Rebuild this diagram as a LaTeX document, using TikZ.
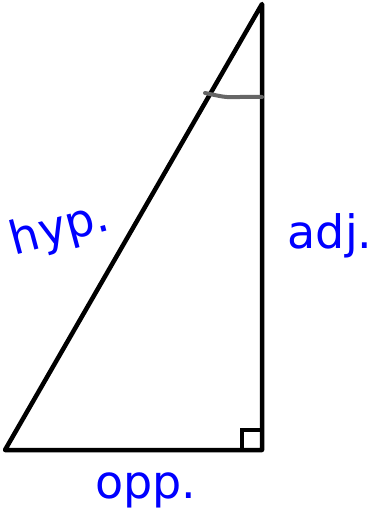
\documentclass[tikz,border=0pt]{standalone}
\usepackage{fontspec}
\setmainfont{DejaVu Sans}
\tikzset{
	lbl/.style={text=blue, font=\fontsize{46}{46}\selectfont, inner sep=0pt},
	side/.style={line width=4.5pt, line join=round}
}
\begin{document}
\begin{tikzpicture}[x=1pt, y=-1pt]
	\useasboundingbox (0,0) rectangle (376,518);
	% Ecken
	\coordinate (top) at (262,4);
	\coordinate (bl) at (5,450);
	\coordinate (br) at (262,450);
	
	% Dreieck
	\draw[side] (top) -- (bl) -- (br) -- cycle;
	
	% rechter Winkel
	\draw[line width=4pt] (242,450) -- (242,430) -- (262,430);
	
	% Winkelbogen
	\draw[gray!80!black, line width=4pt, line cap=round] (205,93) .. controls (220,96) and (225,98) .. (240,97) -- (262,97);
	
	% Beschriftungen
	\node[lbl, rotate=15] (hyp) at (60,230) {hyp.};
	\node[lbl] (adj) at (330,236) {adj.};
	\node[lbl] (opp) at (146,490) {opp.};
\end{tikzpicture}
\end{document}
